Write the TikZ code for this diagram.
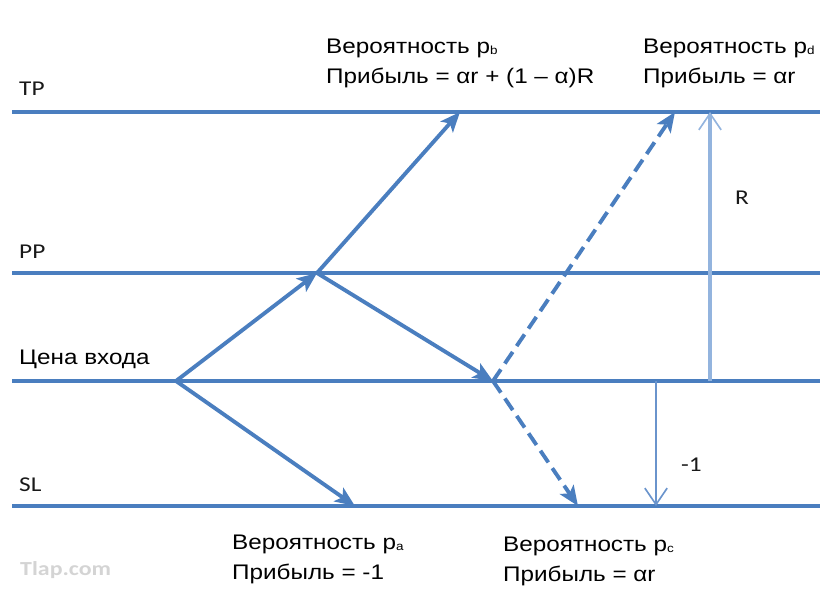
\documentclass[tikz,border=0pt]{standalone}
\usepackage{fontspec}
\setmainfont{Liberation Sans}[FakeStretch=1.15]
\newfontfamily\lblfont{Carlito}[FakeStretch=1.2]
\usetikzlibrary{arrows.meta}
\definecolor{lineblue}{HTML}{4A7EBF}
\definecolor{lightblue}{HTML}{93B4DE}
\definecolor{midblue}{HTML}{6A94CC}
\definecolor{markgray}{HTML}{D4D4D4}
\newcommand\probsub[1]{\raisebox{-0.5pt}{\fontsize{10}{10}\selectfont #1}}

\begin{document}
\begin{tikzpicture}[
    x=0.03cm, y=-0.03cm,
    level/.style={lineblue, line width=2.8pt},
    arr/.style={-{Stealth[length=17pt, width=14pt, inset=4pt]}, lineblue, line width=3.3pt},
    dasharr/.style={arr, dash pattern=on 12pt off 6pt},
    gaparr/.style={-{Straight Barb[length=14pt, width=19pt, line width=1.4pt]}, line width=#1},
    txt/.style={anchor=base west, inner sep=0pt, align=left, font=\fontsize{18}{24.8}\selectfont},
    lbl/.style={anchor=base west, inner sep=0pt, font=\lblfont\fontsize{18}{18}\selectfont, black!90}
  ]
    \useasboundingbox (0,0) rectangle (833,607);

    % price levels
    \coordinate (tpL) at (12,112);  \coordinate (tpR) at (820,112);
    \coordinate (ppL) at (12,273);  \coordinate (ppR) at (820,273);
    \coordinate (inL) at (12,381);  \coordinate (inR) at (820,381);
    \coordinate (slL) at (12,506);  \coordinate (slR) at (820,506);
    \draw[level] (tpL) -- (tpR);
    \draw[level] (ppL) -- (ppR);
    \draw[level] (inL) -- (inR);
    \draw[level] (slL) -- (slR);

    \node[lbl] (tp) at (19,95) {TP};
    \node[lbl] (pp) at (19,258) {PP};
    \node[txt] (entry) at (19,364) {Цена входа};
    \node[lbl] (sl) at (19,491) {SL};

    % price paths
    \coordinate (start) at (176,381);
    \coordinate (part) at (317,273);
    \coordinate (hitB) at (460,112);
    \coordinate (back) at (493,381);
    \coordinate (hitA) at (355,506);
    \coordinate (hitD) at (675,112);
    \coordinate (hitC) at (578,506);

    \draw[arr] (start) -- (part);
    \draw[arr] (part) -- (hitB);
    \draw[arr] (part) -- (back);
    \draw[arr] (start) -- (hitA);
    \draw[dasharr] (back) -- (hitD);
    \draw[dasharr] (back) -- (hitC);

    % distances
    \coordinate (rLow) at (710,381);  \coordinate (rTop) at (710,112);
    \coordinate (lTop) at (656,381);  \coordinate (lLow) at (656,506);
    \draw[gaparr=2.8pt, lightblue] (rLow) -- (rTop);
    \draw[gaparr=2pt, midblue] (lTop) -- (lLow);
    \node[lbl] (rlab) at (735,204) {R};
    \node[lbl] (loss) at (681,471) {-1};

    % outcomes
    \node[txt] (outB) at (326,83) {Вероятность p\probsub{b}\\Прибыль = αr + (1 – α)R};
    \node[txt] (outD) at (643,83) {Вероятность p\probsub{d}\\Прибыль = αr};
    \node[txt] (outA) at (232,579) {Вероятность p\probsub{a}\\Прибыль = -1};
    \node[txt] (outC) at (503,581) {Вероятность p\probsub{c}\\Прибыль = αr};

    \node[anchor=base west, inner sep=0pt, font=\lblfont\bfseries\fontsize{17}{17}\selectfont, markgray] (mark) at (20,575) {Tlap.com};
\end{tikzpicture}
\end{document}
